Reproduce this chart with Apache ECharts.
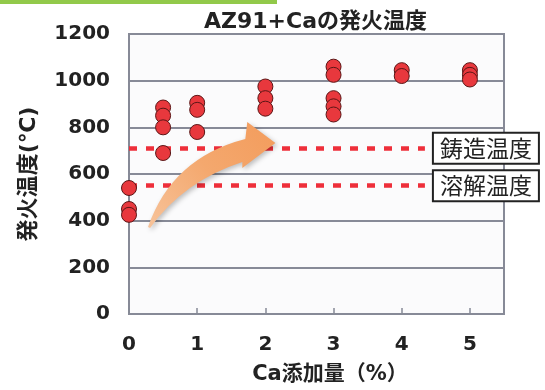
<!DOCTYPE html>
<html>
<head>
<meta charset="utf-8">
<script src="https://cdn.jsdelivr.net/npm/echarts@6/dist/echarts.min.js"></script>
<style>
html,body{margin:0;padding:0;background:#fff;}
#chart{width:545px;height:390px;}
</style>
</head>
<body>
<div id="chart"></div>
<script>
// ---- data ----
const titleText = 'AZ91+Caの発火温度';
const xAxisName = 'Ca添加量（%）';
const yAxisName = '発火温度(℃)';
const caContent = [0, 0.5, 1, 2, 3, 4, 5];
const ignitionTemps = [
  [540, 450, 425],
  [885, 850, 800, 690],
  [905, 875, 780],
  [975, 925, 880],
  [1060, 1025, 925, 890, 855],
  [1045, 1020],
  [1045, 1025, 1005]
];
const refLabels = ['鋳造温度', '溶解温度'];
const refValues = [710, 550];
const xTicks = [0, 1, 2, 3, 4, 5];
const yTicks = [0, 200, 400, 600, 800, 1000, 1200];

// ---- build ----
const scatterData = [];
caContent.forEach((x, i) => ignitionTemps[i].forEach(t => scatterData.push([x, t])));

const FONT = "'DejaVu Sans','Noto Sans CJK JP',sans-serif";
const JFONT = "'Noto Sans CJK JP','DejaVu Sans',sans-serif";
const refLineEnd = 4.34;

// decorative arrow outline in data space
const arrowPts = {
  p0: [0.279, 373], c1: [0.632, 669], p1: [1.706, 750],
  p2: [1.735, 823], p3: [2.147, 733], p4: [1.662, 626],
  p5: [1.662, 651], c2: [0.809, 570], p6: [0.309, 369]
};

const chart = echarts.init(document.getElementById('chart'), null, {renderer: 'canvas'});
chart.setOption({
  animation: false,
  backgroundColor: '#fff',
  title: {
    text: titleText,
    left: 199, top: 6,
    textStyle: {fontFamily: FONT, fontSize: 22, fontWeight: 'bold', color: '#222'}
  },
  graphic: [{
    type: 'rect', left: 0, top: 0, shape: {width: 277, height: 4},
    style: {fill: '#92c94a'}
  }],
  grid: {
    left: 129, right: 41, top: 34, bottom: 76,
    show: true, backgroundColor: '#fbfbfc', borderColor: '#878a97', borderWidth: 2
  },
  xAxis: {
    type: 'value', min: 0, max: 5.5, interval: 1,
    name: xAxisName, nameLocation: 'middle', nameGap: 50,
    nameTextStyle: {fontFamily: FONT, fontSize: 21, fontWeight: 'bold', color: '#222', padding: [0, 0, 0, 27]},
    axisLine: {show: true, lineStyle: {color: '#878a97', width: 2}},
    axisTick: {show: true, inside: true, length: 6, lineStyle: {color: '#878a97', width: 1.5}},
    axisLabel: {
      margin: 21, fontFamily: FONT, fontSize: 20, fontWeight: 'bold', color: '#222',
      showMaxLabel: false,
      formatter: v => (xTicks.indexOf(v) >= 0 ? String(v) : '')
    },
    splitLine: {show: false}
  },
  yAxis: {
    type: 'value', min: 0, max: 1200, interval: 200,
    name: yAxisName, nameLocation: 'middle', nameGap: 89, nameRotate: 90,
    nameTextStyle: {fontFamily: FONT, fontSize: 22, fontWeight: 'bold', color: '#222'},
    axisLine: {show: true, lineStyle: {color: '#878a97', width: 2}},
    axisTick: {show: false},
    axisLabel: {
      margin: 19, fontFamily: FONT, fontSize: 20, fontWeight: 'bold', color: '#222',
      formatter: v => (yTicks.indexOf(v) >= 0 ? String(v) : '')
    },
    splitLine: {show: true, lineStyle: {color: '#878a97', width: 2}}
  },
  series: [
    {
      type: 'scatter',
      data: scatterData,
      symbol: 'circle',
      symbolSize: 15,
      z: 5,
      itemStyle: {color: '#e8383d', borderColor: '#5a1616', borderWidth: 1, opacity: 1},
      markLine: {
        silent: true,
        symbol: ['none', 'none'],
        z: 3,
        lineStyle: {color: '#ee2f3a', type: [8, 9], width: 4.5},
        label: {
          show: true, position: 'end', distance: 9,
          fontFamily: JFONT, fontSize: 23, color: '#222',
          backgroundColor: '#fff', borderColor: '#222', borderWidth: 2,
          padding: [3, 6, 1, 6], lineHeight: 25
        },
        data: refValues.map((v, i) => [
          {coord: [0, v], label: {formatter: refLabels[i]}},
          {coord: [refLineEnd, v]}
        ])
      }
    },
    {
      type: 'custom',
      z: 10,
      silent: true,
      data: [[0, 0]],
      renderItem: function (params, api) {
        const P = k => api.coord(arrowPts[k]);
        const p0 = P('p0'), c1 = P('c1'), p1 = P('p1'), p2 = P('p2'), p3 = P('p3'),
              p4 = P('p4'), p5 = P('p5'), c2 = P('c2'), p6 = P('p6');
        const d = 'M' + p0.join(' ') +
          ' Q' + c1.join(' ') + ' ' + p1.join(' ') +
          ' L' + p2.join(' ') + ' L' + p3.join(' ') + ' L' + p4.join(' ') +
          ' L' + p5.join(' ') +
          ' Q' + c2.join(' ') + ' ' + p6.join(' ') + ' Z';
        return {
          type: 'path',
          shape: {pathData: d},
          style: {
            fill: new echarts.graphic.LinearGradient(0, 1, 1, 0, [
              {offset: 0, color: '#f7c39a'},
              {offset: 0.5, color: '#f4a86e'},
              {offset: 1, color: '#f39c5c'}
            ]),
            shadowBlur: 5, shadowColor: 'rgba(0,0,0,0.25)', shadowOffsetX: 2, shadowOffsetY: 2
          }
        };
      }
    }
  ]
});
</script>
</body>
</html>
